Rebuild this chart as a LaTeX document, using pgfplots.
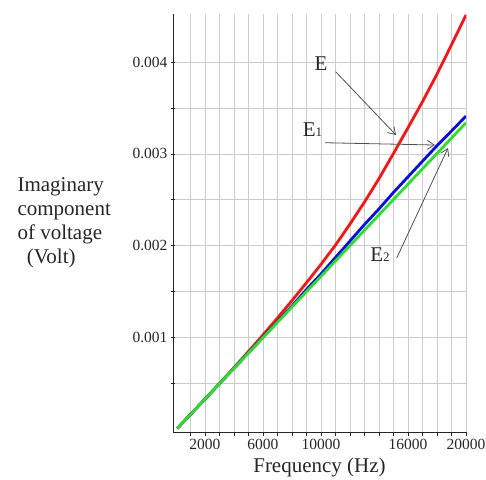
\documentclass[border=0pt]{standalone}
\usepackage{fontspec}
\setmainfont{Liberation Serif}
\usepackage{pgfplots}
\pgfplotsset{compat=1.18}
\usetikzlibrary{arrows.meta}

\definecolor{cRed}{RGB}{250,20,20}
\definecolor{cBlue}{RGB}{10,10,240}
\definecolor{cGreen}{RGB}{40,225,40}
\definecolor{cArrow}{RGB}{80,80,80}

\begin{document}
\begin{tikzpicture}
\path[use as bounding box] (0,0) rectangle (486bp,480bp);
\begin{axis}[
  at={(173bp,48bp)}, anchor=south west,
  scale only axis, width=293bp, height=418bp,
  xmin=-200, xmax=20000, ymin=-0.0000327, ymax=0.004526,
  axis x line=bottom, axis y line=left,
  axis line style={-, black!85, line width=0.9bp},
  xtick={2000,6000,10000,16000,20000},
  minor xtick={1000,2000,...,20000},
  ytick={0.001,0.002,0.003,0.004},
  minor ytick={0.0005,0.0015,0.0025,0.0035},
  grid=both,
  major grid style={gray!40, line width=0.8bp},
  minor grid style={gray!40, line width=0.8bp},
  tick style={black!85, line width=0.8bp},
  major tick length=4bp, minor tick length=4bp,
  xtick align=outside, ytick align=center,
  scaled x ticks=false, scaled y ticks=false,
  /pgf/number format/assume math mode=true,
  yticklabel style={/pgf/number format/fixed, /pgf/number format/fixed zerofill, /pgf/number format/precision=3},
  xticklabel style={/pgf/number format/fixed, /pgf/number format/1000 sep={}},
  ticklabel style={font=\fontsize{15.5bp}{18bp}\selectfont, text=black!85},
  xlabel={Frequency (Hz)},
  xlabel style={font=\fontsize{21bp}{24bp}\selectfont, text=black!85, yshift=-1bp},
]
% E
\addplot[cRed, line width=2.8bp] coordinates {
(100,0.0000068) (1000,0.000158) (2000,0.000326) (3000,0.000496) (4000,0.000668)
(5000,0.000845) (6000,0.001025) (7000,0.00121) (8000,0.0014) (9000,0.001595)
(10000,0.001795) (11000,0.002005) (12000,0.002235) (13000,0.002475) (14000,0.00273)
(15000,0.003005) (16000,0.003285) (17000,0.00357) (18000,0.00387) (19000,0.00419)
(20000,0.004515)};
% E1
\addplot[cBlue, line width=2.8bp] coordinates {
(100,0.0000068) (1000,0.000158) (2000,0.000325) (3000,0.000493) (4000,0.000662)
(5000,0.000831) (6000,0.001) (7000,0.00117) (8000,0.00134) (9000,0.00152)
(10000,0.00169) (11000,0.00187) (12000,0.00205) (13000,0.00223) (14000,0.0024)
(15000,0.00258) (16000,0.00275) (17000,0.00292) (18000,0.00309) (19000,0.00325)
(20000,0.003413)};
% E2
\addplot[cGreen, line width=2.8bp] coordinates {
(100,0.0000068) (1000,0.000158) (2000,0.000325) (3000,0.000493) (4000,0.00066)
(5000,0.000828) (6000,0.000995) (7000,0.001163) (8000,0.00133) (9000,0.001498)
(10000,0.001665) (11000,0.001833) (12000,0.002) (13000,0.002168) (14000,0.002335)
(15000,0.002503) (16000,0.00267) (17000,0.002838) (18000,0.003005) (19000,0.003173)
(20000,0.00334)};

% annotations
\begin{scope}[font=\fontsize{21bp}{24bp}\selectfont, text=black!85]
\node at (axis cs:10000,0.00399) {E};
\node at (axis cs:9417,0.00326) {E{\fontsize{13bp}{13bp}\selectfont 1}};
\node at (axis cs:14071,0.001903) {E{\fontsize{13bp}{13bp}\selectfont 2}};
\end{scope}
\begin{scope}[cArrow, line width=0.8bp, -{Straight Barb[length=7bp,width=9bp]}]
\draw (axis cs:11017,0.003896) -- (axis cs:15174,0.003206);
\draw (axis cs:10279,0.003122) -- (axis cs:17863,0.003097);
\draw (axis cs:15222,0.001865) -- (axis cs:18759,0.003064);
\end{scope}
\end{axis}
\node[anchor=west, align=left, font=\fontsize{21bp}{24bp}\selectfont, text=black!85]
  at (14bp,257bp) {Imaginary\\component\\of voltage\\\hspace{0.45em}(Volt)};
\end{tikzpicture}
\end{document}
